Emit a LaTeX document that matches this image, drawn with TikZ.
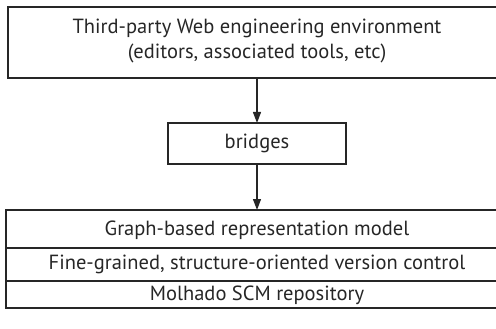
\documentclass[tikz,border=0pt]{standalone}
\usepackage{fontspec}
\setmainfont{PT Sans}
\usetikzlibrary{arrows.meta}
\begin{document}
\begin{tikzpicture}[x=1pt,y=-1pt,
  box/.style={draw=black!85, line width=1.3pt},
  lbl/.style={font=\fontsize{20.5}{25}\selectfont, text=black!85, align=center},
  arr/.style={draw=black!85, line width=1.3pt, -{Triangle[length=11pt,width=8pt]}}]
\useasboundingbox (0,0) rectangle (496,329);
\begin{scope}
\clip (0,0) rectangle (496,329);
\draw[box] (8,7) rectangle (506,78);
\node[lbl] (top) at (257,41) {Third-party Web engineering environment\\(editors, associated tools, etc)};
\coordinate (topb) at (257,78);
\draw[box] (168,123) rectangle (346,164);
\node[lbl] (br) at (257,143.5) {bridges};
\coordinate (brt) at (257,123);
\coordinate (brb) at (257,164);
\draw[box] (6,210) rectangle (508,308);
\draw[box] (6,248) -- (508,248);
\draw[box] (6,281) -- (508,281);
\coordinate (gt) at (257,210);
\node[lbl] (g1) at (257,230) {Graph-based representation model};
\node[lbl] (g2) at (257,264.5) {Fine-grained, structure-oriented version control};
\node[lbl] (g3) at (257,295) {Molhado SCM repository};
\draw[arr] (topb) -- (brt);
\draw[arr] (brb) -- (gt);
\end{scope}
\end{tikzpicture}
\end{document}
